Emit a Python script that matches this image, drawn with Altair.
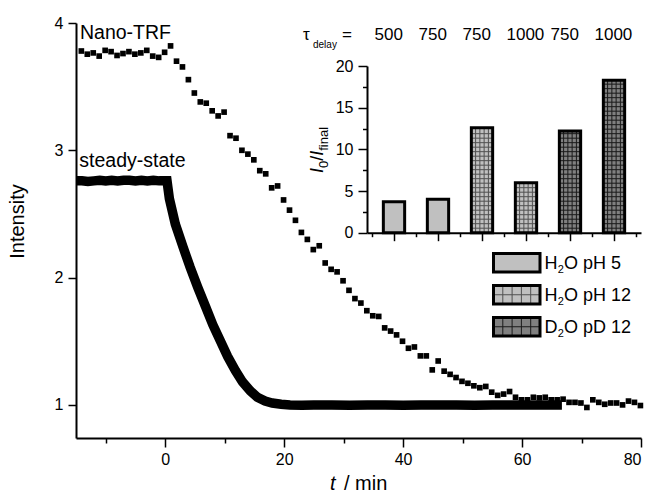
import altair as alt
import pandas as pd

FONT = "Liberation Sans"

# ---------------- data ----------------
# Nano-TRF (squares), one point per minute
trf_t = [-14.1, -13.1, -12.1, -11.1, -10.1, -9.1, -8.1, -7.1, -6.1, -5.1,
         -4.1, -3.1, -2.1, -1.1, -0.1, 0.9, 1.9, 2.9, 3.9, 4.9,
         5.9, 6.9, 7.9, 8.9, 9.9, 10.9, 11.9, 12.9, 13.9, 14.9,
         15.9, 16.9, 17.9, 18.9, 19.9, 20.9, 21.9, 22.9, 23.9, 24.9,
         25.9, 26.9, 27.9, 28.9, 29.9, 30.9, 31.9, 32.9, 33.9, 34.9,
         35.9, 36.9, 37.9, 38.9, 39.9, 40.9, 41.9, 42.9, 43.9, 44.9,
         45.9, 46.9, 47.9, 48.9, 49.9, 50.9, 51.9, 52.9, 53.9, 54.9,
         55.9, 56.9, 57.9, 58.9, 59.9, 60.9, 61.9, 62.9, 63.9, 64.9,
         65.9, 66.9, 67.9, 68.9, 69.9, 70.9, 71.9, 72.9, 73.9, 74.9,
         75.9, 76.9, 77.9, 78.9, 79.9]
trf_I = [3.78, 3.755, 3.765, 3.74, 3.785, 3.775, 3.745, 3.76, 3.775, 3.755,
         3.765, 3.785, 3.74, 3.73, 3.77, 3.82, 3.70, 3.655, 3.555, 3.45,
         3.38, 3.37, 3.31, 3.27, 3.30, 3.115, 3.095, 3.00, 2.97, 2.925,
         2.84, 2.815, 2.705, 2.72, 2.61, 2.53, 2.45, 2.355, 2.30, 2.22,
         2.25, 2.115, 2.065, 2.045, 1.975, 1.90, 1.835, 1.80, 1.74, 1.70,
         1.695, 1.605, 1.58, 1.55, 1.50, 1.445, 1.455, 1.385, 1.385, 1.275,
         1.345, 1.265, 1.24, 1.215, 1.185, 1.17, 1.15, 1.135, 1.145, 1.10,
         1.075, 1.085, 1.105, 1.06, 1.04, 1.04, 1.06, 1.055, 1.06, 1.04,
         1.04, 1.045, 1.02, 1.02, 1.015, 0.98, 1.04, 1.02, 1.005, 1.015,
         1.015, 1.0, 1.03, 1.02, 0.995]

# steady-state (dense trace)
ss_t = [-15, -14, -13, -12, -11, -10, -9, -8, -7, -6, -5, -4, -3, -2, -1, 0, 0.3,
        0.7, 1.7, 3.0, 4.2, 5.5, 6.8, 8.0, 9.3, 10.5, 11.8, 13.0, 14.3, 15.5, 16.8, 18.0, 19.5,
        21, 23, 25, 28, 31, 34, 37, 40, 43, 46, 49, 52, 55, 58, 61, 64, 66.7]
ss_I = [2.76, 2.76, 2.755, 2.76, 2.765, 2.76, 2.765, 2.76, 2.765, 2.765, 2.76, 2.765, 2.76, 2.765, 2.76, 2.76, 2.76,
        2.62, 2.42, 2.24, 2.08, 1.92, 1.77, 1.63, 1.50, 1.38, 1.27, 1.18, 1.11, 1.06, 1.03, 1.015, 1.005,
        1.0, 0.998, 1.0, 1.0, 0.998, 1.0, 1.0, 0.998, 1.0, 1.0, 1.0, 0.998, 1.0, 1.0, 1.0, 1.0, 1.0]

# inset bar chart
samples = [1, 2, 3, 4, 5, 6]
ratio = [3.7, 4.0, 12.6, 6.0, 12.2, 18.3]
tau_delay = ["500", "750", "750", "1000", "750", "1000"]
groups = ["H2O pH 5", "H2O pH 5", "H2O pH 12", "H2O pH 12", "D2O pD 12", "D2O pD 12"]

# legend labels (main letter, subscript, rest)
leg_main = ["H", "H", "D"]
leg_sub = ["2", "2", "2"]
leg_rest = ["O pH 5", "O pH 12", "O pD 12"]
leg_group = ["H2O pH 5", "H2O pH 12", "D2O pD 12"]

LIGHT = "#c0c0c0"
DARK = "#808080"
GRID_LIGHT = "#505050"
GRID_DARK = "#1a1a1a"

ss_df = pd.DataFrame({"t": ss_t, "I": ss_I})
trf_df = pd.DataFrame({"t": trf_t, "I": trf_I})
bar_df = pd.DataFrame({"sample": samples, "val": ratio, "tau": tau_delay, "group": groups})
anno_df = pd.DataFrame({"k": [0]})

# ---------------- main plot ----------------
xmain = alt.X(
    "t:Q",
    scale=alt.Scale(domain=[-15, 80], nice=False, zero=False),
    axis=alt.Axis(
        orient="bottom", title=None,
        values=[-10, 0, 10, 20, 30, 40, 50, 60, 70, 80],
        labelExpr="datum.value % 20 === 0 ? datum.label : ''",
        tickSize={"condition": {"test": "datum.value % 20 === 0", "value": 9}, "value": 5},
        labelPadding=4,
    ),
)
ymain = alt.Y(
    "I:Q",
    scale=alt.Scale(domain=[0.74, 4], nice=False, zero=False),
    axis=alt.Axis(
        orient="left", title=None,
        values=[1, 1.5, 2, 2.5, 3, 3.5, 4], format="d",
        labelExpr="datum.value % 1 === 0 ? datum.label : ''",
        tickSize={"condition": {"test": "datum.value % 1 === 0", "value": 8}, "value": 4},
        labelPadding=5,
    ),
)

ss = alt.Chart(ss_df).mark_line(color="black", strokeWidth=9.5).encode(x=xmain, y=ymain)
trf = alt.Chart(trf_df).mark_square(size=32, color="black", opacity=1).encode(
    x=alt.X("t:Q"), y=alt.Y("I:Q"))
main = alt.layer(ss, trf)

# ---------------- inset ----------------
ix = alt.X(
    "sample:Q",
    scale=alt.Scale(domain=[0.5, 6.5], range=[291, 565], nice=False, zero=False),
    axis=alt.Axis(
        orient="bottom", offset=-205.3, title=None, labels=False,
        values=[0.5, 1, 1.5, 2, 2.5, 3, 3.5, 4, 4.5, 5, 5.5, 6, 6.5],
        tickSize={"condition": {"test": "datum.value % 1 === 0", "value": 8}, "value": 4},
    ),
)
iy = alt.Y(
    "val:Q",
    scale=alt.Scale(domain=[0, 20], range=[209.7, 43], nice=False),
    axis=alt.Axis(
        orient="left", offset=-291, title=None,
        values=[0, 2.5, 5, 7.5, 10, 12.5, 15, 17.5, 20], format="d",
        labelExpr="datum.value % 5 === 0 ? datum.label : ''",
        tickSize={"condition": {"test": "datum.value % 5 === 0", "value": 9}, "value": 4.5},
        labelPadding=5,
    ),
)

fill_cond = alt.condition("datum.group === 'D2O pD 12'", alt.value(DARK), alt.value(LIGHT))
grid_cond = alt.condition("datum.group === 'D2O pD 12'", alt.value(GRID_DARK), alt.value(GRID_LIGHT))
hatched = "datum.group !== 'H2O pH 5'"

bars_fill = alt.Chart(bar_df).mark_bar(width=21.3, strokeWidth=0, opacity=1).encode(
    x=ix, y=iy, color=fill_cond)

vrules = [
    alt.Chart(bar_df).transform_filter(hatched).mark_rule(xOffset=d, strokeWidth=1).encode(
        x="sample:Q", y="val:Q", y2=alt.datum(0), color=grid_cond)
    for d in (-6.4, -2.13, 2.13, 6.4)
]
hrules = alt.Chart(bar_df).transform_filter(hatched).transform_calculate(
    hy="sequence(0.54, datum.val - 0.2, 0.54)"
).transform_flatten(["hy"]).mark_rule(xOffset=-10.6, x2Offset=10.6, strokeWidth=1).encode(
    x="sample:Q", x2="sample:Q", y=alt.Y("hy:Q"), color=grid_cond)

outline = alt.Chart(bar_df).mark_bar(width=21.3, filled=False, stroke="black", strokeWidth=3).encode(
    x="sample:Q", y="val:Q")

header = alt.Chart(bar_df).mark_text(
    align="left", dx=-19.5, fontSize=17, font=FONT, baseline="alphabetic", color="black"
).encode(x="sample:Q", y=alt.value(17), text="tau:N")

inset = alt.layer(bars_fill, *vrules, hrules, outline, header)


# ---------------- annotations ----------------
def txt(s, x, y, size, italic=False, angle=0, align="left"):
    return alt.Chart(anno_df).mark_text(
        text=s, fontSize=size, font=FONT,
        fontStyle="italic" if italic else "normal",
        angle=angle, align=align, baseline="alphabetic", color="black",
    ).encode(x=alt.value(x), y=alt.value(y))


annos = [
    txt("Nano-TRF", 4, 15.5, 19.5),
    txt("steady-state", 3.3, 143.7, 19.5),
    txt("Intensity", -52.5, 198.5, 20, angle=270, align="center"),
    txt("t", 254, 467, 20, italic=True),
    txt("/ min", 268, 467, 20),
    txt("\u03c4", 227, 17, 17),
    txt("delay", 237, 24.5, 10),
    txt("=", 266, 17, 17),
    # inset y title  I0/Ifinal (rotated)
    txt("I", 247, 150, 18, italic=True, angle=270),
    txt("0", 251.5, 145, 13, angle=270),
    txt("/", 247, 137.8, 18, angle=270),
    txt("I", 247, 132.8, 18, italic=True, angle=270),
    txt("final", 251.5, 127.8, 13, angle=270),
]

# legend
sw_x0, sw_x1 = 417.5, 464.0
sw_tops = [230.5, 262.5, 294.5]
sw_h = 18.5
leg_layers = []
for i in range(3):
    top = sw_tops[i]
    fillc = DARK if leg_group[i] == "D2O pD 12" else LIGHT
    gridc = GRID_DARK if leg_group[i] == "D2O pD 12" else GRID_LIGHT
    leg_layers.append(
        alt.Chart(anno_df).mark_rect(fill=fillc, strokeWidth=0).encode(
            x=alt.value(sw_x0), x2=alt.value(sw_x1), y=alt.value(top), y2=alt.value(top + sw_h)))
    if leg_group[i] != "H2O pH 5":
        for k in range(1, 5):
            xv = sw_x0 + (sw_x1 - sw_x0) * k / 5
            leg_layers.append(
                alt.Chart(anno_df).mark_rule(color=gridc, strokeWidth=1).encode(
                    x=alt.value(xv), y=alt.value(top), y2=alt.value(top + sw_h)))
        leg_layers.append(
            alt.Chart(anno_df).mark_rule(color=gridc, strokeWidth=1).encode(
                x=alt.value(sw_x0), x2=alt.value(sw_x1), y=alt.value(top + sw_h / 2)))
    leg_layers.append(
        alt.Chart(anno_df).mark_rect(fillOpacity=0, stroke="black", strokeWidth=3).encode(
            x=alt.value(sw_x0), x2=alt.value(sw_x1), y=alt.value(top), y2=alt.value(top + sw_h)))
    base = top + 15
    leg_layers.append(txt(leg_main[i], 468.6, base, 18))
    leg_layers.append(txt(leg_sub[i], 481.8, base + 4.5, 11))
    leg_layers.append(txt(leg_rest[i], 488.0, base, 18))

chart = alt.layer(main, inset, *annos, *leg_layers).resolve_scale(
    x="independent", y="independent"
).properties(
    width=565, height=415,
    autosize=alt.AutoSizeParams(type="none"),
    padding={"left": 76, "top": 23, "right": 10, "bottom": 60},
).configure_view(stroke=None).configure_axis(
    labelFont=FONT, labelFontSize=16, labelColor="black",
    domainColor="black", domainWidth=2, tickColor="black", tickWidth=1.5,
    grid=False,
)

chart.save("out.html", embed_options={"renderer": "svg", "actions": False})
